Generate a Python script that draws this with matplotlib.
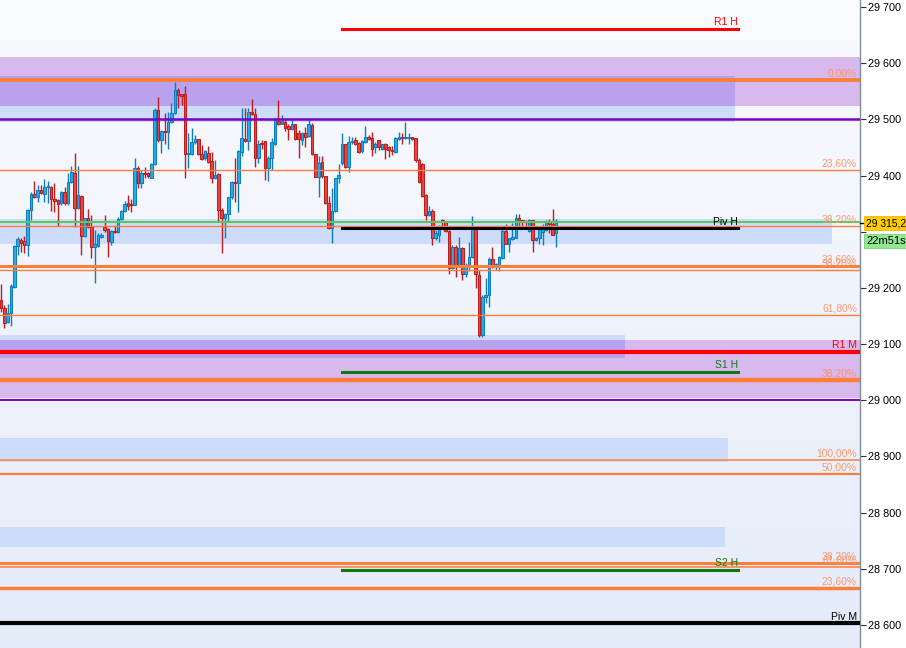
import matplotlib
matplotlib.use("Agg")
import matplotlib.pyplot as plt
import matplotlib.transforms as mtransforms
from matplotlib.colors import LinearSegmentedColormap
import numpy as np

plt.rcParams['font.family'] = ['Liberation Sans', 'DejaVu Sans']

# candles (price)
opens = [29178, 29165, 29140, 29155, 29202, 29275, 29286, 29283, 29277, 29339,
         29367, 29362, 29374, 29368, 29379, 29380, 29359, 29356, 29351, 29371,
         29352, 29389, 29404, 29343, 29364, 29293, 29324, 29308, 29273, 29275,
         29291, 29308, 29304, 29282, 29301, 29300, 29322, 29337, 29351, 29349,
         29348, 29413, 29387, 29405, 29404, 29396, 29420, 29517, 29463, 29479,
         29477, 29495, 29511, 29552, 29545, 29546, 29438, 29438, 29460, 29465,
         29438, 29431, 29441, 29426, 29395, 29402, 29339, 29325, 29331, 29361,
         29389, 29386, 29442, 29465, 29461, 29514, 29509, 29431, 29458, 29461,
         29413, 29431, 29457, 29497, 29492, 29495, 29489, 29483, 29491, 29475,
         29463, 29475, 29470, 29490, 29438, 29397, 29425, 29399, 29351, 29306,
         29337, 29395, 29423, 29456, 29415, 29459, 29463, 29458, 29444, 29460,
         29469, 29466, 29450, 29463, 29447, 29456, 29450, 29445, 29442, 29465,
         29469, 29466, 29466, 29468, 29466, 29428, 29420, 29365, 29330, 29337,
         29288, 29294, 29321, 29318, 29301, 29236, 29273, 29241, 29271, 29224,
         29239, 29255, 29306, 29223, 29116, 29184, 29188, 29251, 29238, 29241,
         29254, 29301, 29279, 29287, 29289, 29324, 29321, 29319, 29301, 29321,
         29286, 29288, 29300, 29303, 29318, 29313, 29297]
highs = [29207, 29170, 29172, 29207, 29277, 29291, 29289, 29292, 29341, 29371,
         29390, 29383, 29383, 29393, 29390, 29381, 29386, 29359, 29373, 29380,
         29404, 29417, 29440, 29417, 29365, 29325, 29340, 29330, 29303, 29297,
         29297, 29330, 29306, 29303, 29312, 29327, 29339, 29355, 29365, 29358,
         29431, 29417, 29410, 29415, 29407, 29422, 29520, 29539, 29481, 29511,
         29514, 29529, 29566, 29555, 29546, 29560, 29475, 29484, 29473, 29465,
         29454, 29446, 29453, 29442, 29428, 29404, 29342, 29333, 29362, 29391,
         29431, 29446, 29521, 29520, 29520, 29537, 29520, 29463, 29463, 29461,
         29434, 29466, 29502, 29534, 29508, 29503, 29491, 29499, 29491, 29481,
         29477, 29487, 29499, 29493, 29438, 29435, 29434, 29399, 29364, 29377,
         29396, 29420, 29476, 29457, 29470, 29468, 29469, 29460, 29463, 29488,
         29472, 29478, 29460, 29463, 29457, 29458, 29453, 29453, 29469, 29478,
         29476, 29496, 29475, 29469, 29467, 29431, 29422, 29368, 29346, 29340,
         29303, 29312, 29323, 29319, 29303, 29276, 29276, 29291, 29273, 29244,
         29282, 29328, 29309, 29232, 29187, 29217, 29255, 29273, 29244, 29257,
         29305, 29313, 29289, 29315, 29331, 29331, 29321, 29321, 29322, 29321,
         29291, 29306, 29313, 29321, 29323, 29340, 29323]
lows = [29158, 29128, 29138, 29133, 29200, 29258, 29264, 29262, 29257, 29320,
        29360, 29353, 29368, 29353, 29351, 29337, 29336, 29310, 29348, 29348,
        29348, 29386, 29308, 29341, 29258, 29291, 29306, 29253, 29209, 29272,
        29289, 29300, 29255, 29276, 29298, 29298, 29320, 29336, 29338, 29336,
        29347, 29377, 29377, 29396, 29396, 29395, 29419, 29460, 29440, 29457,
        29447, 29493, 29509, 29520, 29526, 29396, 29413, 29437, 29457, 29437,
        29428, 29428, 29423, 29386, 29394, 29318, 29262, 29288, 29318, 29359,
        29353, 29336, 29434, 29460, 29445, 29508, 29416, 29422, 29448, 29392,
        29390, 29410, 29454, 29490, 29491, 29479, 29463, 29481, 29463, 29432,
        29454, 29451, 29469, 29437, 29397, 29362, 29395, 29349, 29304, 29280,
        29335, 29387, 29419, 29413, 29407, 29456, 29454, 29440, 29441, 29458,
        29463, 29435, 29440, 29445, 29445, 29429, 29433, 29437, 29441, 29463,
        29457, 29465, 29457, 29463, 29425, 29386, 29361, 29321, 29328, 29276,
        29286, 29282, 29306, 29299, 29224, 29234, 29220, 29238, 29214, 29220,
        29230, 29254, 29199, 29113, 29113, 29174, 29166, 29235, 29232, 29230,
        29251, 29278, 29264, 29286, 29288, 29309, 29309, 29304, 29300, 29264,
        29284, 29279, 29276, 29302, 29297, 29294, 29272]
closes = [29164, 29138, 29155, 29203, 29275, 29287, 29280, 29277, 29339, 29367,
          29362, 29374, 29369, 29380, 29380, 29359, 29355, 29349, 29371, 29352,
          29389, 29407, 29343, 29365, 29293, 29324, 29308, 29273, 29278, 29294,
          29295, 29303, 29284, 29301, 29299, 29322, 29337, 29349, 29346, 29348,
          29413, 29386, 29405, 29402, 29399, 29420, 29517, 29463, 29479, 29477,
          29496, 29511, 29552, 29543, 29542, 29438, 29440, 29460, 29465, 29438,
          29429, 29444, 29424, 29395, 29401, 29339, 29325, 29331, 29361, 29388,
          29386, 29444, 29467, 29461, 29513, 29509, 29431, 29457, 29456, 29413,
          29431, 29459, 29499, 29491, 29497, 29485, 29483, 29491, 29465, 29465,
          29475, 29469, 29491, 29438, 29398, 29422, 29399, 29351, 29306, 29337,
          29395, 29401, 29456, 29415, 29459, 29462, 29457, 29442, 29462, 29469,
          29465, 29448, 29456, 29450, 29456, 29448, 29445, 29444, 29466, 29469,
          29466, 29468, 29468, 29465, 29428, 29389, 29364, 29330, 29337, 29288,
          29297, 29309, 29318, 29301, 29236, 29273, 29241, 29271, 29224, 29241,
          29255, 29306, 29224, 29116, 29184, 29188, 29251, 29238, 29242, 29255,
          29301, 29279, 29288, 29291, 29324, 29319, 29319, 29317, 29321, 29286,
          29289, 29305, 29305, 29319, 29313, 29295, 29315]

# fibonacci levels
fib_prices = [29570, 29410, 29310, 29239, 29232, 29152, 29036, 28894, 28869, 28710, 28703, 28666]
fib_labels = ["0,00%", "23,60%", "38,20%", "23,60%", "38,20%", "61,80%", "38,20%",
              "100,00%", "50,00%", "38,20%", "61,80%", "23,60%"]
fib_lw = [2.8, 1.0, 1.0, 2.2, 1.0, 1.0, 3.2, 1.1, 1.6, 2.2, 1.1, 2.5]

# pivots
pivot_h_names = ["R1 H", "Piv H", "S1 H", "S2 H"]
pivot_h_prices = [29661, 29306, 29050, 28698]
pivot_h_colors = ["#ff0000", "#000000", "#107a10", "#107a10"]
pivot_m_names = ["R1 M", "Piv M"]
pivot_m_prices = [29086, 28603]
pivot_m_colors = ["#ff0000", "#000000"]
round_levels = [29500, 29000]
green_level = 29317

# zones (low, high)
purple_zones = [(29524, 29611), (29004, 29107)]
blue_zones = [(29495, 29577), (29278, 29322), (29075, 29116), (28890, 28933), (28739, 28774)]
blue_zone_ends = [0.855, 0.967, 0.727, 0.847, 0.843]

last_price = 29315.2
timer = "22m51s"
yticks = list(range(28600, 29701, 100))

fig = plt.figure(figsize=(9.06, 6.48), dpi=100)
ax = fig.add_axes([0, 0, 860 / 906, 1])
n = len(opens)
ax.set_xlim(-0.3, 256.96)
ax.set_ylim(28559, 29712.5)

# background gradient
bg = LinearSegmentedColormap.from_list("bg", ["#e4ebf9", "#fafbff"])
ax.imshow(np.linspace(0, 1, 256).reshape(-1, 1), extent=[0, 1, 0, 1], transform=ax.transAxes,
          cmap=bg, aspect='auto', origin='lower', zorder=0)

trans = mtransforms.blended_transform_factory(ax.transAxes, ax.transData)
for lo, hi in purple_zones:
    ax.fill_between([0, 1], lo, hi, transform=trans, color="#d8b9ee", lw=0, zorder=1)
for (lo, hi), xe in zip(blue_zones, blue_zone_ends):
    ax.fill_between([0, xe], lo, hi, transform=trans, color="#ccdcfa", lw=0, zorder=1)
    for plo, phi in purple_zones:
        a, b = max(lo, plo), min(hi, phi)
        if a < b:
            ax.fill_between([0, xe], a, b, transform=trans, color="#b8a2ee", lw=0, zorder=1.1)

# candles
x = np.arange(n)
for i in range(n):
    o, h, l, c = opens[i], highs[i], lows[i], closes[i]
    if c >= o:
        fc, ec = "#22aee6", "#0f7cc0"
    else:
        fc, ec = "#e84646", "#c01c1c"
    ax.vlines(x[i], l, h, color=ec, lw=1.0, zorder=3)
    ax.bar(x[i], max(abs(c - o), 1.8), bottom=min(o, c), width=0.78,
           color=fc, edgecolor=ec, linewidth=0.75, zorder=3.2)

# level lines
orange = "#ff7f3a"
for p, lw in zip(fib_prices, fib_lw):
    ax.axhline(p, color=orange, lw=lw, zorder=4)
ax.axhline(green_level, color="#5cc85c", lw=1.5, zorder=4)
for p in round_levels:
    ax.axhline(p, color="#7a00c8", lw=1.8 if p == 29500 else 1.4, zorder=4)
for p, c in zip(pivot_m_prices, pivot_m_colors):
    ax.axhline(p, color=c, lw=3.0, zorder=4.2)
for p, c in zip(pivot_h_prices, pivot_h_colors):
    ax.axhline(p, xmin=0.3977, xmax=0.858, color=c, lw=2.2, zorder=4.3)

# labels
for p, t in zip(fib_prices, fib_labels):
    ax.text(0.9965, p + 2.5, t, transform=trans, ha='right', va='bottom',
            fontsize=7.4, color="#ff9060", alpha=0.9, zorder=5)
for p, t, c in zip(pivot_h_prices, pivot_h_names, pivot_h_colors):
    ax.text(0.858, p + 3, t, transform=trans, ha='right', va='bottom',
            fontsize=7.5, color=c, zorder=5)
for p, t, c in zip(pivot_m_prices, pivot_m_names, pivot_m_colors):
    ax.text(0.9965, p + 3, t, transform=trans, ha='right', va='bottom',
            fontsize=7.5, color=c, zorder=5)

# right axis (29 300 is hidden behind the price tag)
ax.yaxis.tick_right()
ax.set_yticks(yticks)
ax.set_yticklabels(["" if v == 29300 else f"{v:,}".replace(",", " ") for v in yticks])
ax.tick_params(axis='y', direction='out', length=4, width=0.8, color="#333333",
               labelsize=7.8, pad=2, labelcolor="#000000")
ax.set_xticks([])
for s in ["left", "top", "bottom"]:
    ax.spines[s].set_visible(False)
ax.spines["right"].set_color("#7f8c99")
ax.spines["right"].set_linewidth(1.0)

# price tag and timer
ax.plot([1.0, 1.005], [last_price, last_price], transform=trans, color="#000000",
        lw=1.0, clip_on=False, zorder=6)
ax.text(1.007, last_price, "29 315,2", transform=trans, ha='left', va='center', fontsize=7.4,
        color="#000000", clip_on=False, zorder=6,
        bbox=dict(boxstyle="square,pad=0.18", fc="#ffcc00", ec="#ffb000", lw=0.6))
ax.text(1.007, last_price - 31, timer, transform=trans, ha='left', va='center', fontsize=8,
        color="#000000", clip_on=False, zorder=6,
        bbox=dict(boxstyle="square,pad=0.18", fc="#90e890", ec="#7ad07a", lw=0.6))

fig.savefig("out.png", dpi=100)
